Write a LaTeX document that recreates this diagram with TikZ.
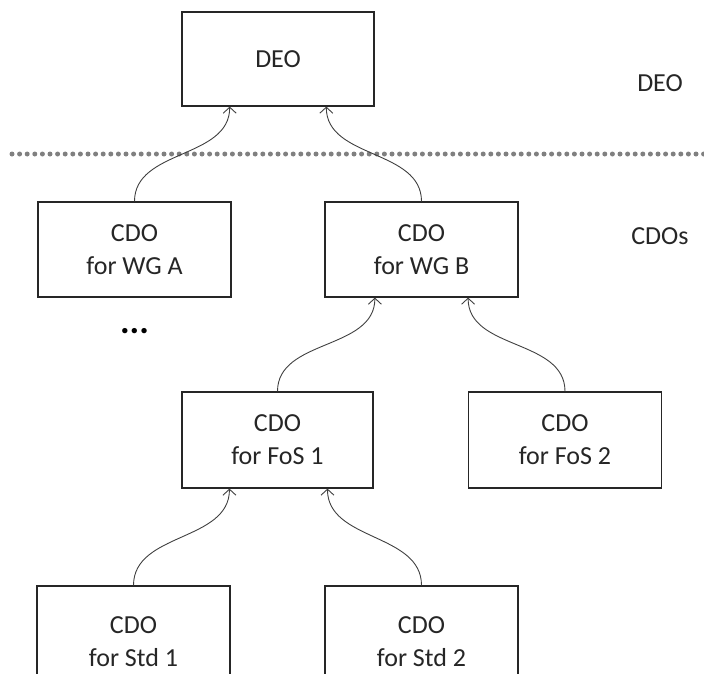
\documentclass[tikz,border=0pt]{standalone}
\usepackage{fontspec}
\setmainfont{Carlito}
\usetikzlibrary{arrows.meta,calc}
\begin{document}
\begin{tikzpicture}[x=1pt,y=1pt,
  box/.style={draw=black!85, line width=1.2pt, fill=white,
    minimum width=193pt, minimum height=95pt, inner sep=0pt,
    align=center, font=\fontsize{26}{33}\selectfont, text=black!85},
  tierlabel/.style={font=\fontsize{26}{33}\selectfont, text=black!85, inner sep=0pt},
  link/.style={draw=black!75, line width=0.9pt,
    -{Straight Barb[length=6pt,width=13pt,line width=0.9pt]}},
  separator/.style={draw=black!50, line width=5pt, line cap=round,
    dash pattern=on 0pt off 7.6pt}]
\useasboundingbox (0,0) rectangle (704,-673);
\begin{scope}
\clip (0,0) rectangle (704,-673);

% separator between the two tiers
\coordinate (sepL) at (12,-154);
\coordinate (sepR) at (704,-154);
\draw[separator] (sepL) -- (sepR);

% boxes
\node[box, minimum width=192pt, minimum height=94pt] (deo) at (278,-59) {DEO};
\node[box] (wga) at (134.5,-249.5) {CDO\\for WG A};
\node[box] (wgb) at (421.5,-249.5) {CDO\\for WG B};
\node[box, minimum width=191pt, minimum height=96pt] (fos1) at (277.5,-440) {CDO\\for FoS 1};
\node[box, minimum height=96pt] (fos2) at (565,-440) {CDO\\for FoS 2};
\node[box, minimum height=112pt] (std1) at (133.5,-642) {CDO\\for Std 1};
\node[box, minimum height=112pt] (std2) at (421.5,-642) {CDO\\for Std 2};

% tier labels and ellipsis
\node[tierlabel] (lblDEO) at (660,-83) {DEO};
\node[tierlabel] (lblCDO) at (660,-236) {CDOs};
\node[tierlabel, font=\fontsize{36}{40}\selectfont\bfseries, text=black, anchor=base] (more) at (134.5,-333) {...};

% reporting links
\draw[link] (wga.north) to[out=90,in=-90] ($(deo.south west)!0.25!(deo.south east)$);
\draw[link] (wgb.north) to[out=90,in=-90] ($(deo.south west)!0.75!(deo.south east)$);
\draw[link] (fos1.north) to[out=90,in=-90] ($(wgb.south west)!0.26!(wgb.south east)$);
\draw[link] (fos2.north) to[out=90,in=-90] ($(wgb.south west)!0.74!(wgb.south east)$);
\draw[link] (std1.north) to[out=90,in=-90] ($(fos1.south west)!0.25!(fos1.south east)$);
\draw[link] (std2.north) to[out=90,in=-90] ($(fos1.south west)!0.76!(fos1.south east)$);
\end{scope}
\end{tikzpicture}
\end{document}
